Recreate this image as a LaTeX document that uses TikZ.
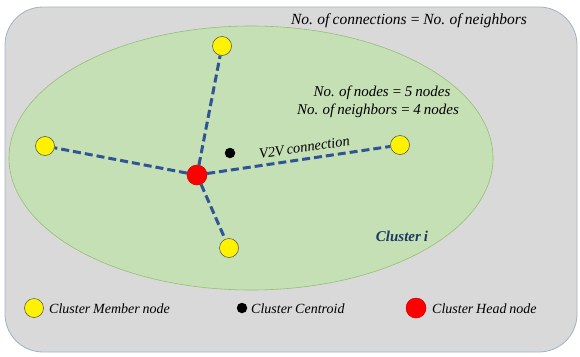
\documentclass[tikz,border=0pt]{standalone}
\usepackage{fontspec}
\setmainfont{Liberation Serif}
\newfontfamily\timesfont[WordSpace=0.8]{Liberation Serif}
\definecolor{bgfill}{RGB}{217,217,217}
\definecolor{bgline}{RGB}{160,178,196}
\definecolor{ellfill}{RGB}{197,224,180}
\definecolor{elline}{RGB}{150,190,120}
\definecolor{linkblue}{RGB}{47,85,151}
\definecolor{clusterblue}{RGB}{31,56,100}
\tikzset{
  member/.style={circle, draw=black!70, fill=yellow, line width=0.5pt, minimum width=18pt, minimum height=19pt, inner sep=0pt},
  head/.style={circle, draw=red!80!black, fill=red, line width=0.5pt, minimum size=20pt, inner sep=0pt},
  centroid/.style={circle, fill=black, minimum size=10.5pt, inner sep=0pt},
  link/.style={linkblue, line width=3pt, dash pattern=on 8pt off 4pt},
  lbl/.style={font=\timesfont\fontsize{15}{18}\selectfont\itshape, inner sep=0pt},
  leg/.style={font=\timesfont\fontsize{14}{17}\selectfont\itshape, inner sep=0pt, anchor=base west},
}
\begin{document}
\begin{tikzpicture}[x=1pt,y=-1pt]
\useasboundingbox (0,0) rectangle (580,356);
\draw[bgline, fill=bgfill, line width=0.8pt, rounded corners=38pt] (5,7) rectangle (577,352);
\draw[elline, fill=ellfill, line width=0.6pt] (251,158) ellipse [x radius=242, y radius=132];
\node[member] (m1) at (222,46) {};
\node[member] (m2) at (45,146) {};
\node[member] (m3) at (400,145) {};
\node[member] (m4) at (229,248) {};
\node[head] (h) at (197,175) {};
\node[centroid] (c) at (230,153) {};
\draw[link] (h) -- (m1);
\draw[link] (h) -- (m2);
\draw[link] (h) -- (m3);
\draw[link] (h) -- (m4);
\node[lbl, anchor=base, font=\timesfont\fontsize{15.5}{18}\selectfont\itshape] (t1) at (409,24) {No. of connections = No. of neighbors};
\node[lbl, anchor=base] (t2) at (382,96) {No. of nodes = 5 nodes};
\node[lbl, anchor=base] (t3) at (378,114) {No. of neighbors = 4 nodes};
\node[lbl, anchor=base, rotate=8.4, font=\timesfont\fontsize{14.5}{17}\selectfont\itshape] (t4) at (305,152) {V2V connection};
\node[lbl, anchor=base, font=\timesfont\fontsize{15}{18}\selectfont\bfseries\itshape, text=clusterblue] (t5) at (402,241) {Cluster i};
\node[member] (lm) at (34,308) {};
\node[leg] (lmt) at (49,313) {Cluster Member node};
\node[centroid] (lc) at (242,308) {};
\node[leg] (lct) at (251,313) {Cluster Centroid};
\node[head] (lh) at (416,308) {};
\node[leg] (lht) at (432,313) {Cluster Head node};
\end{tikzpicture}
\end{document}
